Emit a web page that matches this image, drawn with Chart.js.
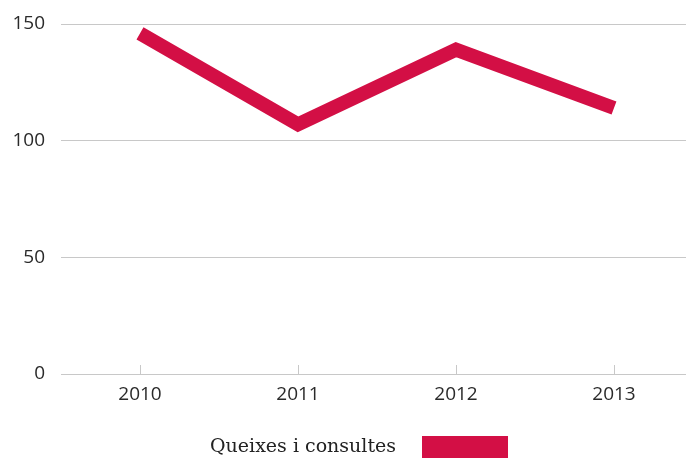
<!DOCTYPE html>
<html>
<head>
<meta charset="utf-8">
<script src="https://cdn.jsdelivr.net/npm/chart.js@4/dist/chart.umd.min.js"></script>
<style>
html,body{margin:0;padding:0;background:#fff;overflow:hidden;}
#wrap{width:693px;height:458px;position:relative;}
</style>
</head>
<body>
<div id="wrap"><canvas id="c"></canvas></div>
<script>
const categories = ['2010', '2011', '2012', '2013'];
const seriesName = 'Queixes i consultes';
const values = [146, 107, 139, 114];
const yTicks = [0, 50, 100, 150];

const innerTicks = {
  id: 'innerTicks',
  beforeDatasetsDraw(chart) {
    const x = chart.scales.x, ctx = chart.ctx, b = chart.chartArea.bottom;
    ctx.save();
    ctx.strokeStyle = '#c8c8c8';
    ctx.lineWidth = 1;
    x.ticks.forEach((t, i) => {
      const px = Math.round(x.getPixelForTick(i)) + 0.5;
      ctx.beginPath();
      ctx.moveTo(px, b - 9);
      ctx.lineTo(px, b);
      ctx.stroke();
    });
    ctx.restore();
  }
};

const sideLegend = {
  id: 'sideLegend',
  afterDraw(chart) {
    const ctx = chart.ctx;
    const ds = chart.data.datasets[0];
    ctx.save();
    ctx.font = '19px "DejaVu Serif"';
    ctx.fillStyle = '#222';
    ctx.textBaseline = 'middle';
    const tw = ctx.measureText(ds.label).width;
    const gap = 26, bw = 86, bh = 22;
    const total = tw + gap + bw;
    const cx = 359;
    const x0 = cx - total / 2;
    const cy = 447;
    ctx.fillText(ds.label, x0, cy);
    ctx.fillStyle = ds.backgroundColor;
    ctx.fillRect(x0 + tw + gap, cy - bh / 2, bw, bh);
    ctx.restore();
  }
};

new Chart(document.getElementById('c'), {
  type: 'line',
  data: {
    labels: categories,
    datasets: [{
      label: seriesName,
      data: values,
      borderColor: '#d30f45',
      backgroundColor: '#d30f45',
      borderWidth: 14,
      borderCapStyle: 'butt',
      borderJoinStyle: 'miter',
      pointRadius: 0,
      pointHoverRadius: 0,
      tension: 0,
      fill: false
    }]
  },
  options: {
    responsive: true,
    maintainAspectRatio: false,
    animation: false,
    layout: { padding: { top: 24, left: 0, right: 0, bottom: 0 } },
    scales: {
      x: {
        offset: true,
        afterFit(axis) { axis.height = 84; axis.paddingLeft = 0; axis.paddingRight = 0; },
        grid: { display: false, drawTicks: false },
        border: { display: false },
        ticks: { color: '#2a2a2a', font: { family: 'Open Sans', size: 19 }, padding: 9 }
      },
      y: {
        min: 0, max: 150,
        afterFit(axis) { axis.width = 61; axis.paddingTop = 0; axis.paddingBottom = 0; },
        afterBuildTicks(axis) { axis.ticks = yTicks.map(v => ({ value: v })); },
        grid: { color: '#c8c8c8', drawTicks: false, lineWidth: 1 },
        border: { display: false },
        ticks: { color: '#2a2a2a', font: { family: 'Open Sans', size: 19 }, padding: 16 }
      }
    },
    plugins: {
      legend: { display: false },
      tooltip: { enabled: false }
    }
  },
  plugins: [innerTicks, sideLegend]
});
</script>
</body>
</html>
